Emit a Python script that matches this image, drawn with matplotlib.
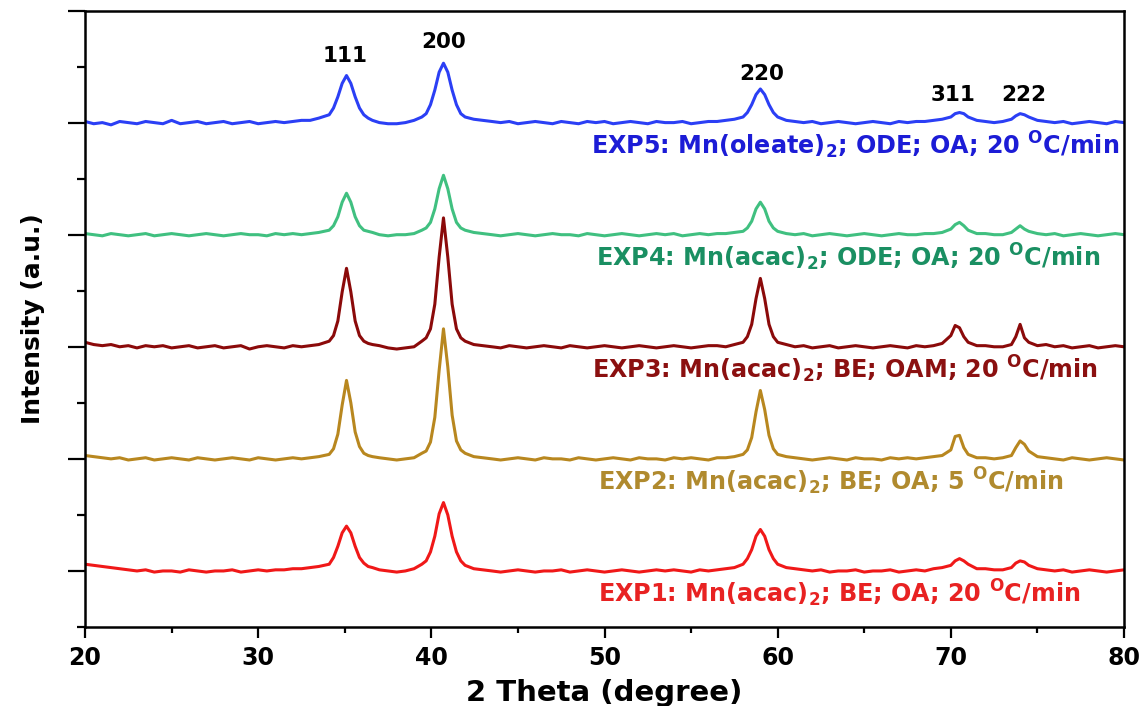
import numpy as np
import matplotlib
matplotlib.use('Agg')
import matplotlib.pyplot as plt

plt.rcParams['font.family'] = ['DejaVu Sans']
plt.rcParams['mathtext.fontset'] = 'dejavusans'
plt.rcParams['mathtext.default'] = 'bf'

# 2 theta grid (degree), denser around the peaks
two_theta = [20.0, 20.5, 21.0, 21.5, 22.0, 22.5, 23.0, 23.5, 24.0, 24.5, 25.0, 25.5, 26.0, 26.5,
             27.0, 27.5, 28.0, 28.5, 29.0, 29.5, 30.0, 30.5, 31.0, 31.5, 32.0, 32.5, 33.0, 33.5,
             34.1, 34.35, 34.6, 34.85, 35.1, 35.35, 35.6, 35.85, 36.1, 36.35, 36.6,
             37.0, 37.5, 38.0, 38.5, 39.0,
             39.45, 39.7, 39.95, 40.2, 40.45, 40.7, 40.95, 41.2, 41.45, 41.7, 41.95, 42.45,
             43.0, 43.5, 44.0, 44.5, 45.0, 45.5, 46.0, 46.5, 47.0, 47.5, 48.0, 48.5, 49.0, 49.5, 50.0,
             50.5, 51.0, 51.5, 52.0, 52.5, 53.0, 53.5, 54.0, 54.5, 55.0, 55.5, 56.0, 56.5, 57.0, 57.5,
             58.0, 58.25, 58.5, 58.75, 59.0, 59.25, 59.5, 59.75, 60.0, 60.5,
             61.0, 61.5, 62.0, 62.5, 63.0, 63.5, 64.0, 64.5, 65.0, 65.5, 66.0, 66.5, 67.0, 67.5, 68.0, 68.5, 69.0, 69.5,
             70.0, 70.25, 70.5, 70.75, 71.0, 71.5,
             72.0, 72.5, 73.0, 73.5,
             73.75, 74.0, 74.25, 74.5, 75.0,
             75.5, 76.0, 76.5, 77.0, 77.5, 78.0, 78.5, 79.0, 79.5, 80.0]

# intensities (a.u.), relative to each baseline
exp1 = [0.06, 0.05, 0.04, 0.03, 0.02, 0.01, 0.00, 0.01, -0.01, 0.00, 0.00, -0.01, 0.01, 0.00,
        -0.01, 0.00, 0.00, 0.01, -0.01, 0.00, 0.01, 0.00, 0.01, 0.01, 0.02, 0.02, 0.03, 0.04,
        0.06, 0.12, 0.22, 0.34, 0.40, 0.34, 0.22, 0.12, 0.07, 0.04, 0.03,
        0.01, 0.00, -0.01, 0.00, 0.02,
        0.06, 0.09, 0.17, 0.31, 0.51, 0.61, 0.50, 0.31, 0.17, 0.09, 0.05, 0.02,
        0.01, 0.00, -0.01, 0.00, 0.01, 0.00, -0.01, 0.00, 0.00, 0.01, -0.01, 0.00, 0.01, 0.00, -0.01,
        0.00, 0.01, 0.00, -0.01, 0.00, 0.01, 0.00, 0.01, 0.00, -0.01, 0.01, 0.00, 0.01, 0.02, 0.03,
        0.06, 0.11, 0.19, 0.31, 0.37, 0.31, 0.19, 0.11, 0.06, 0.03,
        0.02, 0.01, 0.00, 0.01, -0.01, 0.00, 0.00, 0.01, -0.01, 0.00, 0.00, 0.01, -0.01, 0.00, 0.01, 0.00, 0.02, 0.03,
        0.05, 0.09, 0.11, 0.09, 0.06, 0.02,
        0.02, 0.01, 0.01, 0.03,
        0.07, 0.09, 0.08, 0.05, 0.02,
        0.01, 0.00, 0.01, -0.01, 0.00, 0.01, 0.00, -0.01, 0.00, 0.01]

exp2 = [0.03, 0.02, 0.01, 0.00, 0.01, -0.01, 0.00, 0.01, -0.01, 0.00, 0.01, 0.00, -0.01, 0.01,
        0.00, -0.01, 0.00, 0.01, 0.00, -0.01, 0.01, 0.00, -0.01, 0.00, 0.01, 0.00, 0.01, 0.02,
        0.04, 0.09, 0.22, 0.48, 0.70, 0.50, 0.24, 0.11, 0.05, 0.03, 0.02,
        0.01, 0.00, -0.01, 0.00, 0.01,
        0.05, 0.07, 0.15, 0.37, 0.79, 1.16, 0.82, 0.39, 0.16, 0.08, 0.05, 0.02,
        0.01, 0.00, -0.01, 0.00, 0.01, 0.00, -0.01, 0.01, 0.00, 0.00, -0.01, 0.01, 0.00, -0.01, 0.00,
        0.01, 0.00, -0.01, 0.01, 0.00, 0.00, -0.01, 0.01, 0.00, 0.01, 0.00, -0.01, 0.01, 0.01, 0.02,
        0.04, 0.08, 0.19, 0.42, 0.61, 0.44, 0.21, 0.09, 0.04, 0.02,
        0.01, 0.00, -0.01, 0.00, 0.01, 0.00, -0.01, 0.01, 0.00, 0.00, -0.01, 0.01, 0.00, 0.01, 0.00, 0.01, 0.02, 0.03,
        0.08, 0.20, 0.21, 0.10, 0.04, 0.01,
        0.01, 0.00, 0.01, 0.03,
        0.10, 0.16, 0.13, 0.07, 0.02,
        0.01, 0.00, -0.01, 0.01, 0.00, -0.01, 0.00, 0.01, 0.00, -0.01]

exp3 = [0.04, 0.02, 0.01, 0.02, 0.00, 0.01, -0.01, 0.01, 0.00, 0.01, -0.01, 0.00, 0.01, -0.01,
        0.00, 0.01, -0.01, 0.00, 0.01, -0.02, 0.00, 0.01, 0.00, -0.01, 0.01, 0.00, 0.01, 0.02,
        0.05, 0.10, 0.23, 0.49, 0.70, 0.49, 0.23, 0.10, 0.05, 0.03, 0.02,
        0.01, -0.01, -0.02, -0.01, 0.00,
        0.05, 0.08, 0.16, 0.38, 0.80, 1.15, 0.80, 0.38, 0.16, 0.08, 0.05, 0.02,
        0.01, 0.00, -0.01, 0.01, 0.00, -0.01, 0.00, 0.01, 0.00, -0.01, 0.01, 0.00, -0.01, 0.00, 0.01,
        0.00, -0.01, 0.00, 0.01, 0.00, -0.01, 0.00, 0.01, 0.00, -0.01, 0.00, 0.01, 0.01, 0.00, 0.02,
        0.04, 0.09, 0.20, 0.43, 0.61, 0.43, 0.20, 0.09, 0.04, 0.02,
        0.00, 0.01, -0.01, 0.00, 0.01, -0.01, 0.00, 0.01, 0.00, -0.01, 0.00, 0.01, 0.00, -0.01, 0.01, 0.00, 0.01, 0.03,
        0.10, 0.19, 0.17, 0.09, 0.04, 0.01,
        0.01, 0.00, 0.00, 0.02,
        0.09, 0.20, 0.08, 0.04, 0.01,
        0.02, 0.00, 0.01, -0.01, 0.00, 0.01, -0.01, 0.00, 0.01, 0.00]

exp4 = [0.01, 0.00, -0.01, 0.01, 0.00, -0.01, 0.00, 0.01, -0.01, 0.00, 0.01, 0.00, -0.01, 0.00,
        0.01, 0.00, -0.01, 0.00, 0.01, 0.00, 0.00, -0.01, 0.01, 0.00, 0.01, 0.00, 0.01, 0.02,
        0.04, 0.08, 0.16, 0.29, 0.37, 0.29, 0.16, 0.08, 0.04, 0.03, 0.02,
        0.00, -0.01, 0.00, 0.00, 0.01,
        0.04, 0.06, 0.11, 0.23, 0.41, 0.53, 0.41, 0.23, 0.11, 0.06, 0.04, 0.02,
        0.01, 0.00, -0.01, 0.00, 0.01, 0.00, -0.01, 0.00, 0.01, 0.00, 0.00, -0.01, 0.01, 0.00, -0.01,
        0.00, 0.01, 0.00, -0.01, 0.00, 0.01, 0.00, 0.01, -0.01, 0.00, 0.01, 0.00, 0.01, 0.01, 0.02,
        0.03, 0.06, 0.12, 0.23, 0.29, 0.23, 0.12, 0.06, 0.03, 0.01,
        0.00, 0.01, -0.01, 0.00, 0.01, 0.00, -0.01, 0.00, 0.01, 0.00, -0.01, 0.00, 0.01, 0.00, 0.00, 0.01, 0.01, 0.02,
        0.05, 0.09, 0.11, 0.08, 0.04, 0.01,
        0.01, 0.00, 0.00, 0.02,
        0.05, 0.08, 0.05, 0.03, 0.01,
        0.00, 0.01, -0.01, 0.00, 0.01, 0.00, -0.01, 0.00, 0.01, 0.00]

exp5 = [0.01, -0.01, 0.00, -0.02, 0.01, 0.00, -0.01, 0.01, 0.00, -0.01, 0.02, -0.01, 0.00, 0.01,
        -0.01, 0.00, 0.01, -0.01, 0.00, 0.01, -0.01, 0.00, 0.01, 0.00, 0.01, 0.02, 0.02, 0.04,
        0.07, 0.13, 0.23, 0.35, 0.42, 0.35, 0.23, 0.13, 0.07, 0.04, 0.02,
        0.00, -0.01, -0.01, 0.00, 0.02,
        0.05, 0.08, 0.16, 0.29, 0.45, 0.53, 0.45, 0.29, 0.16, 0.08, 0.05, 0.03,
        0.02, 0.01, 0.00, 0.01, -0.01, 0.00, 0.01, 0.00, -0.01, 0.01, 0.00, -0.01, 0.01, 0.00, 0.01,
        -0.01, 0.00, 0.01, 0.00, -0.01, 0.01, 0.00, 0.00, 0.01, -0.01, 0.00, 0.01, 0.01, 0.02, 0.03,
        0.05, 0.09, 0.16, 0.25, 0.30, 0.25, 0.16, 0.09, 0.05, 0.02,
        0.01, 0.00, 0.01, -0.01, 0.00, 0.01, 0.00, -0.01, 0.00, 0.01, 0.00, -0.01, 0.01, 0.00, 0.01, 0.01, 0.02, 0.03,
        0.05, 0.08, 0.09, 0.08, 0.05, 0.02,
        0.01, 0.00, 0.01, 0.03,
        0.06, 0.08, 0.07, 0.05, 0.02,
        0.01, 0.00, 0.01, -0.01, 0.00, 0.01, 0.00, -0.01, 0.01, 0.00]

labels = [r'EXP1: Mn(acac)$_2$; BE; OA; 20 $^O$C/min',
          r'EXP2: Mn(acac)$_2$; BE; OA; 5 $^O$C/min',
          r'EXP3: Mn(acac)$_2$; BE; OAM; 20 $^O$C/min',
          r'EXP4: Mn(acac)$_2$; ODE; OA; 20 $^O$C/min',
          r'EXP5: Mn(oleate)$_2$; ODE; OA; 20 $^O$C/min']
line_colors = ['#f01818', '#b8871f', '#8b0a0a', '#40c080', '#2b3ff5']
text_colors = ['#e82222', '#b08a2e', '#8b1010', '#1a8f62', '#1c1cd6']
label_x = [49.6, 49.6, 49.3, 49.5, 49.2]

# Miller indices of the peaks
hkl = ['111', '200', '220', '311', '222']
hkl_x = [35.0, 40.7, 59.1, 70.1, 74.2]
hkl_y = [4.59, 4.72, 4.43, 4.25, 4.25]

fig = plt.figure(figsize=(11.46, 7.06), dpi=100)
ax = fig.add_axes([0.0742, 0.1119, 0.9066, 0.8732])

series = [exp1, exp2, exp3, exp4, exp5]
for i in range(5):
    y = np.array(series[i]) + i   # stacked with offset i
    ax.plot(two_theta, y, color=line_colors[i], lw=2.2)
    ax.text(label_x[i], i - 0.2, labels[i], color=text_colors[i],
            fontsize=17.2, fontweight='bold', ha='left', va='center')

for i in range(len(hkl)):
    ax.text(hkl_x[i], hkl_y[i], hkl[i], fontsize=15.5, fontweight='bold',
            ha='center', va='center', color='black')

ax.set_xlim(20, 80)
ax.set_ylim(-0.5, 5)
ax.set_xticks([20, 30, 40, 50, 60, 70, 80])
ax.set_xticks([25, 35, 45, 55, 65, 75], minor=True)
ax.set_yticks([0, 1, 2, 3, 4, 5])
ax.set_yticks([-0.5, 0.5, 1.5, 2.5, 3.5, 4.5], minor=True)
ax.set_yticklabels([])
for lab in ax.get_xticklabels():
    lab.set_fontweight('bold')
ax.tick_params(axis='x', which='major', direction='out', length=8, width=1.6,
               labelsize=17, pad=6)
ax.tick_params(axis='x', which='minor', direction='out', length=4.5, width=1.6)
ax.tick_params(axis='y', which='major', direction='out', length=12, width=1.6)
ax.tick_params(axis='y', which='minor', direction='out', length=6, width=1.6)
for s in ax.spines.values():
    s.set_linewidth(1.8)

ax.set_xlabel('2 Theta (degree)', fontsize=21, fontweight='bold', labelpad=6)
ax.set_ylabel('Intensity (a.u.)', fontsize=18, fontweight='bold')
ax.yaxis.set_label_coords(-0.0385, 0.5)

plt.savefig('out.png', dpi=100)
